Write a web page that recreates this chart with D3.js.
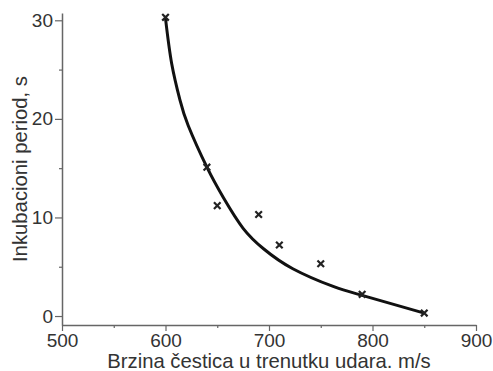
<!DOCTYPE html>
<html>
<head>
<meta charset="utf-8">
<script src="https://cdn.jsdelivr.net/npm/d3@7"></script>
<style>
  body { margin: 0; background: #fff; }
  svg { display: block; }
  .axis text { font-family: "Liberation Sans", Arial, sans-serif; font-size: 19px; fill: #333; }
  .title { font-family: "Liberation Sans", Arial, sans-serif; font-size: 20.3px; fill: #333; }
</style>
</head>
<body>
<div id="chart"></div>
<script>
// measured points (speed m/s, incubation period s)
const speeds = [600, 640, 650, 690, 710, 750, 790, 850];
const periods = [30.3, 15.1, 11.2, 10.3, 7.2, 5.3, 2.2, 0.3];

// fitted curve
const curveX = [600, 606, 614, 622, 640, 656, 675, 695, 723, 762, 790, 850];
const curveY = [30.2, 25.6, 21.9, 19.3, 15.1, 12.0, 8.9, 6.8, 4.8, 3.0, 2.1, 0.3];

const xTicks = [500, 600, 700, 800, 900];
const yTicks = [0, 10, 20, 30];

const width = 493, height = 371;
const margin = {left: 62, right: 17, top: 13, bottom: 46};

const svg = d3.select('#chart').append('svg')
  .attr('width', width)
  .attr('height', height);

const x = d3.scaleLinear().domain([500, 900]).range([margin.left, width - margin.right]);
const y = d3.scaleLinear().domain([-0.91, 30.74]).range([height - margin.bottom, margin.top]);

const axisColor = '#666';

// minor ticks first
svg.append('g')
  .attr('class', 'axis')
  .attr('transform', 'translate(0,' + (height - margin.bottom) + ')')
  .call(d3.axisBottom(x).tickValues([550, 650, 750, 850]).tickSize(3).tickFormat(''))
  .call(g => g.select('.domain').remove())
  .call(g => g.selectAll('line').attr('stroke', axisColor).attr('stroke-width', 1.2));

svg.append('g')
  .attr('class', 'axis')
  .attr('transform', 'translate(' + margin.left + ',0)')
  .call(d3.axisLeft(y).tickValues([5, 15, 25]).tickSize(3).tickFormat(''))
  .call(g => g.select('.domain').remove())
  .call(g => g.selectAll('line').attr('stroke', axisColor).attr('stroke-width', 1.2));

// major axes
svg.append('g')
  .attr('class', 'axis')
  .attr('transform', 'translate(0,' + (height - margin.bottom) + ')')
  .call(d3.axisBottom(x).tickValues(xTicks).tickSize(6).tickSizeOuter(0).tickPadding(3))
  .call(g => g.select('.domain').attr('stroke', axisColor).attr('stroke-width', 1.5))
  .call(g => g.selectAll('line').attr('stroke', axisColor).attr('stroke-width', 1.2));

svg.append('g')
  .attr('class', 'axis')
  .attr('transform', 'translate(' + margin.left + ',0)')
  .call(d3.axisLeft(y).tickValues(yTicks).tickSize(7).tickSizeOuter(0).tickPadding(2))
  .call(g => g.select('.domain').attr('stroke', axisColor).attr('stroke-width', 1.5))
  .call(g => g.selectAll('line').attr('stroke', axisColor).attr('stroke-width', 1.2));

// curve
const line = d3.line()
  .x(d => x(d[0]))
  .y(d => y(d[1]))
  .curve(d3.curveNatural);

svg.append('path')
  .datum(d3.zip(curveX, curveY))
  .attr('fill', 'none')
  .attr('stroke', '#111')
  .attr('stroke-width', 3)
  .attr('d', line);

// cross markers
const cross = d3.symbol().type(d3.symbolX).size(30);
svg.selectAll('.pt')
  .data(d3.zip(speeds, periods))
  .enter()
  .append('path')
  .attr('class', 'pt')
  .attr('transform', d => 'translate(' + x(d[0]) + ',' + y(d[1]) + ')')
  .attr('d', cross)
  .attr('fill', 'none')
  .attr('stroke', '#222')
  .attr('stroke-width', 2.2);

// axis titles
svg.append('text')
  .attr('class', 'title')
  .attr('x', (x(500) + x(900)) / 2)
  .attr('y', 368)
  .attr('text-anchor', 'middle')
  .text('Brzina čestica u trenutku udara. m/s');

svg.append('text')
  .attr('class', 'title')
  .attr('transform', 'translate(27,' + ((margin.top + height - margin.bottom) / 2) + ') rotate(-90)')
  .attr('text-anchor', 'middle')
  .text('Inkubacioni period, s');
</script>
</body>
</html>
